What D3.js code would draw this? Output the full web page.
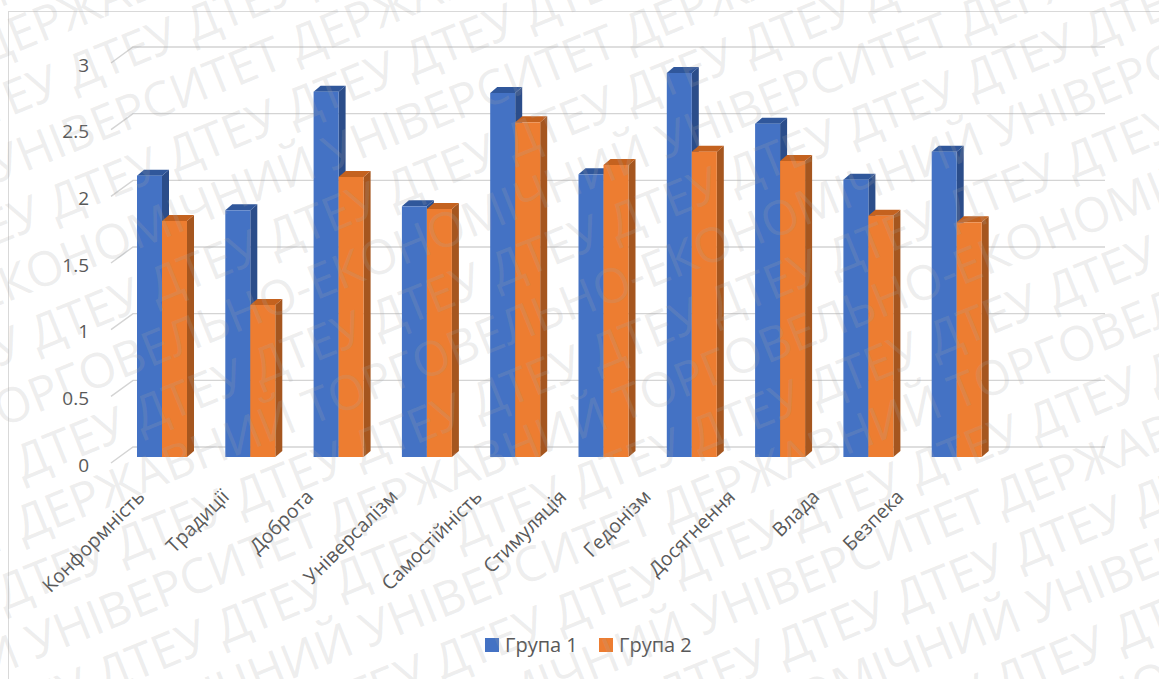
<!DOCTYPE html>
<html lang="uk">
<head>
<meta charset="utf-8">
<script src="https://cdn.jsdelivr.net/npm/d3@7"></script>
<style>
  html, body { margin: 0; padding: 0; background: #ffffff; }
  svg { display: block; font-family: "Open Sans", "Noto Sans", sans-serif; }
</style>
</head>
<body>
<svg id="chart" width="1159" height="679"></svg>
<script>
// Values by category for both groups
const categories = ["Конформність", "Традиції", "Доброта", "Універсалізм", "Самостійність",
                    "Стимуляція", "Гедонізм", "Досягнення", "Влада", "Безпека"];
const seriesNames = ["Група 1", "Група 2"];
const group1 = [2.11, 1.85, 2.74, 1.88, 2.73, 2.12, 2.88, 2.50, 2.08, 2.29];
const group2 = [1.77, 1.14, 2.10, 1.86, 2.51, 2.19, 2.29, 2.22, 1.81, 1.76];
const yTicks = [0, 0.5, 1, 1.5, 2, 2.5, 3];
const yTickLabels = ["0", "0.5", "1", "1.5", "2", "2.5", "3"];
const watermarkLong = "ДЕРЖАВНИЙ ТОРГОВЕЛЬНО-ЕКОНОМІЧНИЙ УНІВЕРСИТЕТ ";
const watermarkShort = "ДТЕУ ";

const svg = d3.select("#chart");

// Pseudo-3D geometry: floor depth offset and bar depth offset
const floor = { dx: 22, dy: -16 };      // front edge -> back wall
const barDepth = { dx: 7, dy: -6 };     // bar front face -> bar back face

const colors = {
  "Група 1": { front: "#4472C4", side: "#2B4D8A", top: "#30579B" },
  "Група 2": { front: "#ED7D31", side: "#A5561F", top: "#C4621F" }
};

// Value scale on the bars' front plane
const y = d3.scaleLinear().domain([0, 3]).range([457, 57]);
const backX0 = 133, backX1 = 1105;
const backY = v => y(v) - 10;

// Category bands for bar groups, and inner bands for the two series
const x = d3.scaleBand().domain(categories).range([117.85, 1000.85]);
const sub = d3.scaleBand().domain(seriesNames).range([-25, 25]);
// Label anchor positions along the front floor edge
const xl = d3.scalePoint().domain(categories).range([146, 905]);

// Chart frame
svg.append("rect")
  .attr("x", 8.5).attr("y", 11.5).attr("width", 1300).attr("height", 800)
  .attr("fill", "none").attr("stroke", "#d9d9d9").attr("stroke-width", 1);

// Gridlines: back wall horizontals + side wall slants
const grid = svg.append("g").attr("stroke", "#d4d4d4").attr("stroke-width", 1.4).attr("fill", "none");
grid.selectAll("path.g").data(yTicks).join("path")
  .attr("class", "g")
  .attr("d", v => {
    const yb = backY(v);
    return `M${backX0 - floor.dx},${yb - floor.dy}L${backX0},${yb}L${backX1},${yb}`;
  });

// Y tick labels
svg.append("g").selectAll("text").data(yTicks).join("text")
  .attr("x", 89)
  .attr("y", v => backY(v) - floor.dy + 2)
  .attr("dy", "0.35em")
  .attr("text-anchor", "end")
  .attr("font-size", 19)
  .attr("fill", "#595959")
  .text((v, i) => yTickLabels[i]);

// Bars
const rows = categories.map((c, i) => ({ c, vals: [group1[i], group2[i]] }));
const bars = svg.append("g");
rows.forEach(r => {
  seriesNames.forEach((s, k) => {
    const v = r.vals[k];
    const x0 = x(r.c) + x.bandwidth() / 2 + sub(s);
    const w = sub.bandwidth();
    const yt = y(v), yb = y(0);
    const col = colors[s];
    const g = bars.append("g");
    g.append("path")
      .attr("d", `M${x0 + w},${yt}L${x0 + w + barDepth.dx},${yt + barDepth.dy}L${x0 + w + barDepth.dx},${yb + barDepth.dy}L${x0 + w},${yb}Z`)
      .attr("fill", col.side);
    g.append("path")
      .attr("d", `M${x0},${yt}L${x0 + barDepth.dx},${yt + barDepth.dy}L${x0 + w + barDepth.dx},${yt + barDepth.dy}L${x0 + w},${yt}Z`)
      .attr("fill", col.top);
    g.append("rect")
      .attr("x", x0).attr("y", yt).attr("width", w).attr("height", yb - yt)
      .attr("fill", col.front);
  });
});

// Category labels, rotated
svg.append("g").selectAll("text").data(categories).join("text")
  .attr("transform", c => `translate(${xl(c)},498) rotate(-45)`)
  .attr("text-anchor", "end")
  .attr("font-size", 19.5)
  .attr("fill", "#595959")
  .text(c => c);

// Legend
const legend = svg.append("g");
const legendItems = [
  { name: "Група 1", x: 485 },
  { name: "Група 2", x: 599 }
];
legendItems.forEach(it => {
  legend.append("rect")
    .attr("x", it.x).attr("y", 638).attr("width", 14).attr("height", 14)
    .attr("fill", colors[it.name].front);
  legend.append("text")
    .attr("x", it.x + 20).attr("y", 652)
    .attr("font-size", 20)
    .attr("fill", "#595959")
    .text(it.name);
});

// University watermark, tiled diagonally over the whole chart
const wm = svg.append("g")
  .attr("fill", "#a6a6a6").attr("fill-opacity", 0.2)
  .attr("font-size", 48)
  .attr("pointer-events", "none")
  .attr("transform", "rotate(-22)");
const wmRows = d3.range(-14, 9);
wm.selectAll("text").data(wmRows).join("text")
  .attr("x", d => {
    if (d % 2 === 0) return -1244 + (((d / 2) * 314) % 1400 + 1400) % 1400 - 1400;
    return -900 + ((d * 97) % 260 + 260) % 260;
  })
  .attr("y", d => 625 + d * 57)
  .text(d => (d % 2 === 0 ? watermarkLong.repeat(4) : watermarkShort.repeat(16)));
</script>
</body>
</html>
